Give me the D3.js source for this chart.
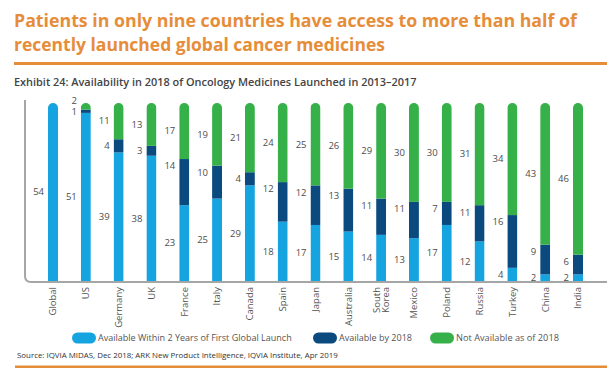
<!DOCTYPE html>
<html>
<head>
<meta charset="utf-8">
<script src="https://cdn.jsdelivr.net/npm/d3@7"></script>
<style>
  body { margin: 0; background: #fff; }
  svg { font-family: "Open Sans", sans-serif; }
</style>
</head>
<body>
<svg id="chart" width="611" height="376"></svg>
<script>
var countries = ["Global", "US", "Germany", "UK", "France", "Italy", "Canada", "Spain", "Japan",
                 "Australia", "South Korea", "Mexico", "Poland", "Russia", "Turkey", "China", "India"];
var within2 = [54, 51, 39, 38, 23, 25, 29, 18, 17, 15, 14, 13, 17, 12, 4, 2, 2];
var by2018 = [0, 1, 4, 3, 14, 10, 4, 12, 12, 13, 11, 11, 7, 11, 16, 9, 6];
var notAvail = [0, 2, 11, 13, 17, 19, 21, 24, 25, 26, 29, 30, 30, 31, 34, 43, 46];
var seriesNames = ["Available Within 2 Years of First Global Launch", "Available by 2018", "Not Available as of 2018"];
var colors = ["#16a4e0", "#0a4a7f", "#36b14a"];

var svg = d3.select("#chart");
var orange = "#e68d3a";

// shrink/grow a text's font so it spans the width seen in the exhibit
function fit(sel, w) {
    var fs = +sel.attr("font-size");
    var len = sel.node().getComputedTextLength();
    sel.attr("font-size", (fs * w / len).toFixed(2));
    return sel;
}

// heading
fit(svg.append("text").attr("x", 14).attr("y", 27)
    .attr("font-size", 19).attr("font-weight", 700).attr("fill", orange)
    .text("Patients in only nine countries have access to more than half of"), 563);
fit(svg.append("text").attr("x", 14).attr("y", 51)
    .attr("font-size", 19).attr("font-weight", 700).attr("fill", orange)
    .text("recently launched global cancer medicines"), 371);
svg.append("rect").attr("x", 14).attr("y", 62).attr("width", 593).attr("height", 3).attr("fill", orange);

fit(svg.append("text").attr("x", 14).attr("y", 86)
    .attr("font-size", 10).attr("font-weight", 600).attr("fill", "#444")
    .text("Exhibit 24: Availability in 2018 of Oncology Medicines Launched in 2013–2017"), 403);

var rows = countries.map((c, i) => ({country: c, a: within2[i], b: by2018[i], c: notAvail[i]}));
var stack = d3.stack().keys(["a", "b", "c"])(rows);

var x = d3.scalePoint().domain(countries).range([36.6, 594.4]).padding(0.5);
var y = d3.scaleLinear().domain([0, 54]).range([281, 103]);
var bw = 10;

// axis frame
svg.append("path")
    .attr("d", "M25,100 L25,276 Q25,282 31,282 L607,282")
    .attr("fill", "none").attr("stroke", "#a6a6a6").attr("stroke-width", 2);

var defs = svg.append("defs");
rows.forEach((d, i) => {
    defs.append("clipPath").attr("id", "clip" + i)
        .append("rect")
        .attr("x", x(d.country) - bw / 2).attr("y", y(54))
        .attr("width", bw).attr("height", y(0) - y(54) + 10)
        .attr("rx", bw / 2);
});

stack.forEach((s, k) => {
    svg.append("g").selectAll("rect")
        .data(s)
        .join("rect")
        .attr("clip-path", (d, i) => "url(#clip" + i + ")")
        .attr("x", d => x(d.data.country) - bw / 2)
        .attr("y", d => y(d[1]))
        .attr("width", bw)
        .attr("height", d => y(d[0]) - y(d[1]))
        .attr("fill", colors[k]);
});

// value labels, left of each bar
var labels = [];
rows.forEach((d, i) => {
    var lx = x(d.country) - bw / 2 - 4;
    var aY = (y(0) + y(d.a)) / 2;
    var bTop = y(d.a + d.b);
    var bY = bTop + Math.min(7, (y(d.a) - bTop) / 2);
    var cY = (y(d.a + d.b) + y(54)) / 2;
    if (d.b > 0 && d.c > 0 && bY - cY < 10.5) cY = bY - 10.5;
    if (d.a > 0) labels.push({x: lx, y: aY, v: d.a});
    if (d.b > 0) labels.push({x: lx, y: bY, v: d.b});
    if (d.c > 0) labels.push({x: lx, y: cY, v: d.c});
});
svg.append("g").selectAll("text")
    .data(labels)
    .join("text")
    .attr("x", d => d.x).attr("y", d => d.y)
    .attr("dy", "0.35em")
    .attr("text-anchor", "end")
    .attr("font-size", 9.5).attr("fill", "#4d4d4d")
    .text(d => d.v);

// category labels, rotated
var ticks = svg.append("g").selectAll("g")
    .data(countries)
    .join("g")
    .attr("transform", d => "translate(" + x(d) + ",287) rotate(-90)");
ticks.each(function (d) {
    var parts = d.split(" ");
    var g = d3.select(this);
    parts.forEach((p, j) => {
        g.append("text")
            .attr("x", 0)
            .attr("y", (j - (parts.length - 1) / 2) * 9)
            .attr("dy", "0.35em")
            .attr("text-anchor", "end")
            .attr("font-size", 9.5).attr("fill", "#555")
            .text(p);
    });
});

// legend
var legX = [72, 313, 430];
var legW = [194, 73, 103];
var leg = svg.append("g").selectAll("g")
    .data(seriesNames)
    .join("g")
    .attr("transform", (d, i) => "translate(" + legX[i] + ",338)");
leg.append("rect").attr("x", 0).attr("y", -5.5).attr("width", 24).attr("height", 11).attr("rx", 5.5)
    .attr("fill", (d, i) => colors[i]);
leg.append("text").attr("x", 26).attr("y", 0).attr("dy", "0.35em")
    .attr("font-size", 9.5).attr("fill", "#555")
    .text(d => d)
    .each(function (d, i) { fit(d3.select(this), legW[i]); });

fit(svg.append("text").attr("x", 17).attr("y", 355).attr("dy", "0.35em")
    .attr("font-size", 8).attr("fill", "#333")
    .text("Source: IQVIA MIDAS, Dec 2018; ARK New Product Intelligence, IQVIA Institute, Apr 2019"), 321);
svg.append("rect").attr("x", 15).attr("y", 365.5).attr("width", 592).attr("height", 2.5).attr("fill", orange);
</script>
</body>
</html>
